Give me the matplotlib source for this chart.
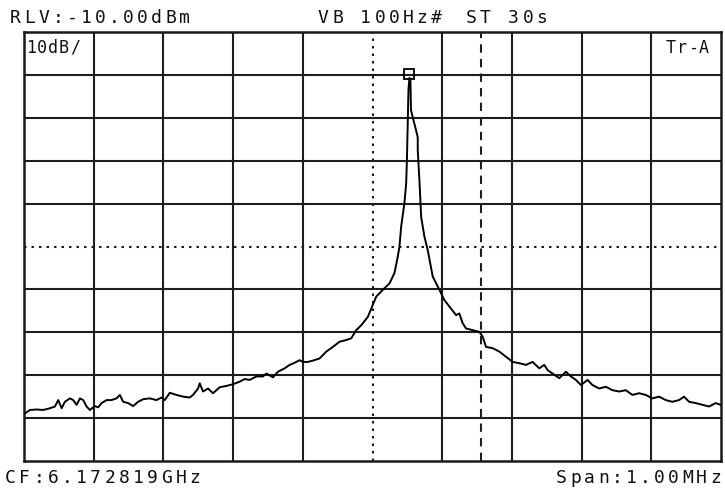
import matplotlib
matplotlib.use("Agg")
import matplotlib.pyplot as plt

# Spectrum trace: offset from centre frequency (kHz) and level (dBm)
freq_khz = [
    -498.6, -491.4, -481.8, -472.4, -462.8, -455.6, -450.9, -446.0, -441.3, -434.1,
    -429.4, -424.5, -419.8, -415.1, -410.2, -405.5, -398.3, -393.6, -388.7, -381.5,
    -374.4, -367.2, -362.5, -357.7, -350.6, -343.4, -336.3, -329.1, -319.5, -309.9,
    -302.7, -298.0, -290.8, -281.2, -271.8, -262.2, -257.5, -250.3, -247.9, -243.1,
    -236.0, -228.8, -219.2, -209.6, -200.1, -190.5, -183.4, -176.2, -166.6, -157.2,
    -152.3, -142.8, -135.7, -126.1, -118.9, -111.8, -104.6, -99.9, -92.7, -85.5,
    -75.9, -66.3, -56.9, -47.3, -37.7, -30.5, -23.4, -15.8, -6.7, 5.3,
    14.8, 24.4, 31.5, 36.2, 38.7, 41.1, 43.4, 45.8, 48.3, 49.4,
    50.6, 51.6, 53.0, 54.4, 55.2, 64.9, 64.9, 67.3, 69.8, 74.5,
    79.2, 86.4, 96.0, 103.2, 110.3, 119.9, 124.6, 129.4, 134.2, 143.7,
    153.3, 158.0, 162.9, 172.4, 182.0, 191.6, 201.0, 210.6, 220.2, 229.7,
    239.3, 246.4, 251.2, 258.3, 267.9, 277.5, 284.7, 291.8, 299.0, 308.5,
    315.6, 325.2, 334.8, 344.3, 353.9, 363.5, 372.9, 382.5, 392.1, 401.6,
    411.2, 420.8, 430.2, 439.8, 447.0, 454.2, 463.8, 473.2, 482.8, 492.4,
    499.6,
]
level_dbm = [
    -98.9, -98.1, -98.0, -98.1, -97.7, -97.3, -95.8, -97.7, -96.2, -95.4,
    -95.8, -96.9, -95.4, -95.8, -97.3, -98.1, -97.2, -97.5, -96.5, -95.8,
    -95.8, -95.4, -94.6, -96.2, -96.5, -97.2, -96.2, -95.6, -95.4, -95.8,
    -95.2, -95.8, -94.1, -94.6, -95.0, -95.2, -94.6, -93.1, -91.9, -93.8,
    -93.1, -94.2, -92.8, -92.5, -92.1, -91.5, -90.9, -91.1, -90.3, -90.3,
    -89.6, -90.5, -89.2, -88.4, -87.6, -87.1, -86.5, -86.9, -86.9, -86.6,
    -86.1, -84.5, -83.4, -82.2, -81.8, -81.4, -79.5, -78.3, -76.4, -71.7,
    -70.1, -68.6, -66.2, -62.4, -60.0, -55.4, -52.7, -49.9, -45.3, -39.8,
    -30.5, -23.5, -20.7, -21.2, -28.2, -34.5, -37.5, -44.5, -53.1, -57.7,
    -60.8, -67.0, -70.1, -72.5, -74.0, -76.0, -75.6, -77.9, -79.1, -79.5,
    -79.9, -81.0, -83.4, -83.7, -84.5, -85.7, -86.9, -87.2, -87.6, -86.9,
    -88.4, -87.6, -88.8, -89.6, -90.7, -89.2, -90.3, -91.1, -92.3, -91.1,
    -92.3, -93.1, -92.7, -93.5, -93.8, -93.5, -94.6, -94.2, -94.6, -95.4,
    -95.0, -95.8, -96.2, -95.8, -95.0, -96.2, -96.5, -96.9, -97.3, -96.5,
    -96.9,
]

# Peak marker and second marker line
peak_khz = 53.0
peak_dbm = -20.7
delta_line_khz = 155.0

# Display settings
ref_level = -10.0
db_per_div = 10.0
span_khz = 1000.0
n_div = 10

W, H = 725, 488
fig = plt.figure(figsize=(W / 100, H / 100), dpi=100)
fig.patch.set_facecolor("white")

left, right, top, bottom = 24, 721, 32, 461
ax = fig.add_axes([left / W, 1 - bottom / H, (right - left) / W, (bottom - top) / H])

x_min, x_max = -span_khz / 2, span_khz / 2
y_max = ref_level
y_min = ref_level - n_div * db_per_div
ax.set_xlim(x_min, x_max)
ax.set_ylim(y_min, y_max)
ax.set_xticks([])
ax.set_yticks([])
for sp in ax.spines.values():
    sp.set_linewidth(1.8)
    sp.set_color("#1a1a1a")

grid_kw = dict(color="#1e1e1e", lw=1.5, zorder=1)
for i in range(1, n_div):
    xv = x_min + i * span_khz / n_div
    yv = y_min + i * db_per_div
    if i == n_div // 2:
        ax.axvline(xv, color="#1e1e1e", lw=1.5, ls=(0, (1.2, 2.4)), zorder=1)
        ax.axhline(yv, color="#1e1e1e", lw=1.5, ls=(0, (1.2, 2.4)), zorder=1)
    else:
        ax.axvline(xv, **grid_kw)
        ax.axhline(yv, **grid_kw)

ax.axvline(delta_line_khz, color="#1e1e1e", lw=1.5, ls=(0, (4, 3)), zorder=1)

ax.plot(freq_khz, level_dbm, color="black", lw=1.4, zorder=3)
ax.plot([peak_khz], [peak_dbm + 0.8], marker="s", ms=6.5, mfc="none",
        mec="black", mew=1.3, zorder=4)


def mono_text(s, x, y, pitch, size=13):
    """Draw a string character by character on a fixed pixel pitch."""
    for k, ch in enumerate(s):
        if ch == " ":
            continue
        fig.text((x + k * pitch) / W, 1 - y / H, ch, fontsize=size,
                 family="DejaVu Sans Mono", color="#111111",
                 ha="left", va="baseline")


mono_text("RLV:-10.00dBm", 10, 23, 14.1)
mono_text("VB 100Hz#", 318, 23, 14.1)
mono_text("ST 30s", 466, 23, 14.1)
mono_text("10dB/", 26, 53, 11.0, size=12)
mono_text("Tr-A", 666, 53, 11.0, size=12)
mono_text("CF:6.172819GHz", 5, 483, 14.2)
mono_text("Span:1.00MHz", 556, 483, 14.0)

fig.savefig("out.png", dpi=100, facecolor="white")
